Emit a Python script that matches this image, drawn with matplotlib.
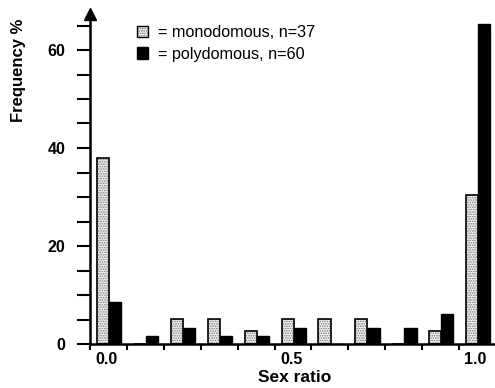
import matplotlib
matplotlib.use("Agg")
import matplotlib.pyplot as plt
import matplotlib.patches as mpatches
from matplotlib.legend_handler import HandlerTuple
import numpy as np

plt.rcParams['font.family'] = ['Liberation Sans', 'DejaVu Sans']
plt.rcParams['hatch.color'] = '#7a7a7a'
plt.rcParams['hatch.linewidth'] = 0.8

# ---- data ----
categories = ["0.0", "0.1", "0.2", "0.3", "0.4", "0.5", "0.6", "0.7", "0.8", "0.9", "1.0"]
monodomous = [38.0, 0.0, 5.2, 5.2, 2.6, 5.2, 5.2, 5.2, 0.0, 2.6, 30.5]
polydomous = [8.5, 1.6, 3.2, 1.6, 1.6, 3.2, 0.0, 3.2, 3.2, 6.2, 65.3]
shown_xlabels = ["0.0", "0.5", "1.0"]
label_mono = "= monodomous, n=37"
label_poly = "= polydomous, n=60"

W, H = 495, 388
fig = plt.figure(figsize=(W / 100, H / 100), dpi=100)
ax = fig.add_axes([90 / W, 44 / H, (W - 90) / W, 330 / H])

x = np.arange(len(categories))
bw = 0.33
# monodomous: stippled fill with black outline
ax.bar(x + 0.19, monodomous, width=bw, align='edge', facecolor='#f2f2f2',
       hatch='.......', edgecolor='#7a7a7a', linewidth=0)
ax.bar(x + 0.19, monodomous, width=bw, align='edge', facecolor='none',
       edgecolor='black', linewidth=1.2)
ax.bar(x + 0.19 + bw, polydomous, width=bw, align='edge', facecolor='black',
       edgecolor='black', linewidth=1.0)

ax.set_xlim(0, (W - 90) / 36.9)
ax.set_ylim(0, 330 / 4.9)

for s in ['top', 'right']:
    ax.spines[s].set_visible(False)
for s in ['left', 'bottom']:
    ax.spines[s].set_linewidth(1.8)

# y ticks every 5, labels every 20
yt = np.arange(0, 70, 5)
ax.set_yticks(yt)
ax.set_yticklabels([str(v) if v % 20 == 0 else '' for v in yt])
ax.tick_params(axis='y', direction='out', length=9.5, width=1.5, pad=8,
               labelsize=11.5)
# x ticks at bin boundaries, labels at bin centres (minor)
ax.set_xticks(np.arange(0, 11))
ax.set_xticklabels([''] * 11)
ax.tick_params(axis='x', which='major', direction='out', length=4, width=1.5)
lab_pos = [categories.index(c) + 0.45 for c in shown_xlabels]
ax.set_xticks(lab_pos, minor=True)
ax.set_xticklabels(shown_xlabels, minor=True)
ax.tick_params(axis='x', which='minor', length=0, pad=6, labelsize=11.5)
for t in ax.get_xticklabels(minor=True) + ax.get_yticklabels():
    t.set_fontweight('bold')

# arrow at top of y axis
ax.plot([0], [1], marker='^', markersize=9, color='black',
        transform=ax.get_xaxis_transform(), clip_on=False)

fig.text(295 / W, 1 - 377 / H, "Sex ratio", ha='center', va='center',
         fontsize=12.5, fontweight='bold')
fig.text(19 / W, 1 - 70 / H, "Frequency %", ha='center', va='center',
         rotation=90, fontsize=12, fontweight='bold')

h_mono = (mpatches.Patch(facecolor='#f2f2f2', hatch='.......', edgecolor='#7a7a7a', linewidth=0),
          mpatches.Patch(facecolor='none', edgecolor='black', linewidth=1.0))
h_poly = mpatches.Patch(facecolor='black', edgecolor='black')
leg = ax.legend([h_mono, h_poly], [label_mono, label_poly],
                handler_map={tuple: HandlerTuple(ndivide=1, pad=0)},
                loc='upper left', bbox_to_anchor=(137 / W, 1 - 25 / H),
                bbox_transform=fig.transFigure, frameon=False, fontsize=11.7,
                handlelength=0.7, handleheight=0.7, handletextpad=0.6,
                labelspacing=0.4, borderpad=0, borderaxespad=0)

fig.savefig("out.png", dpi=100)
